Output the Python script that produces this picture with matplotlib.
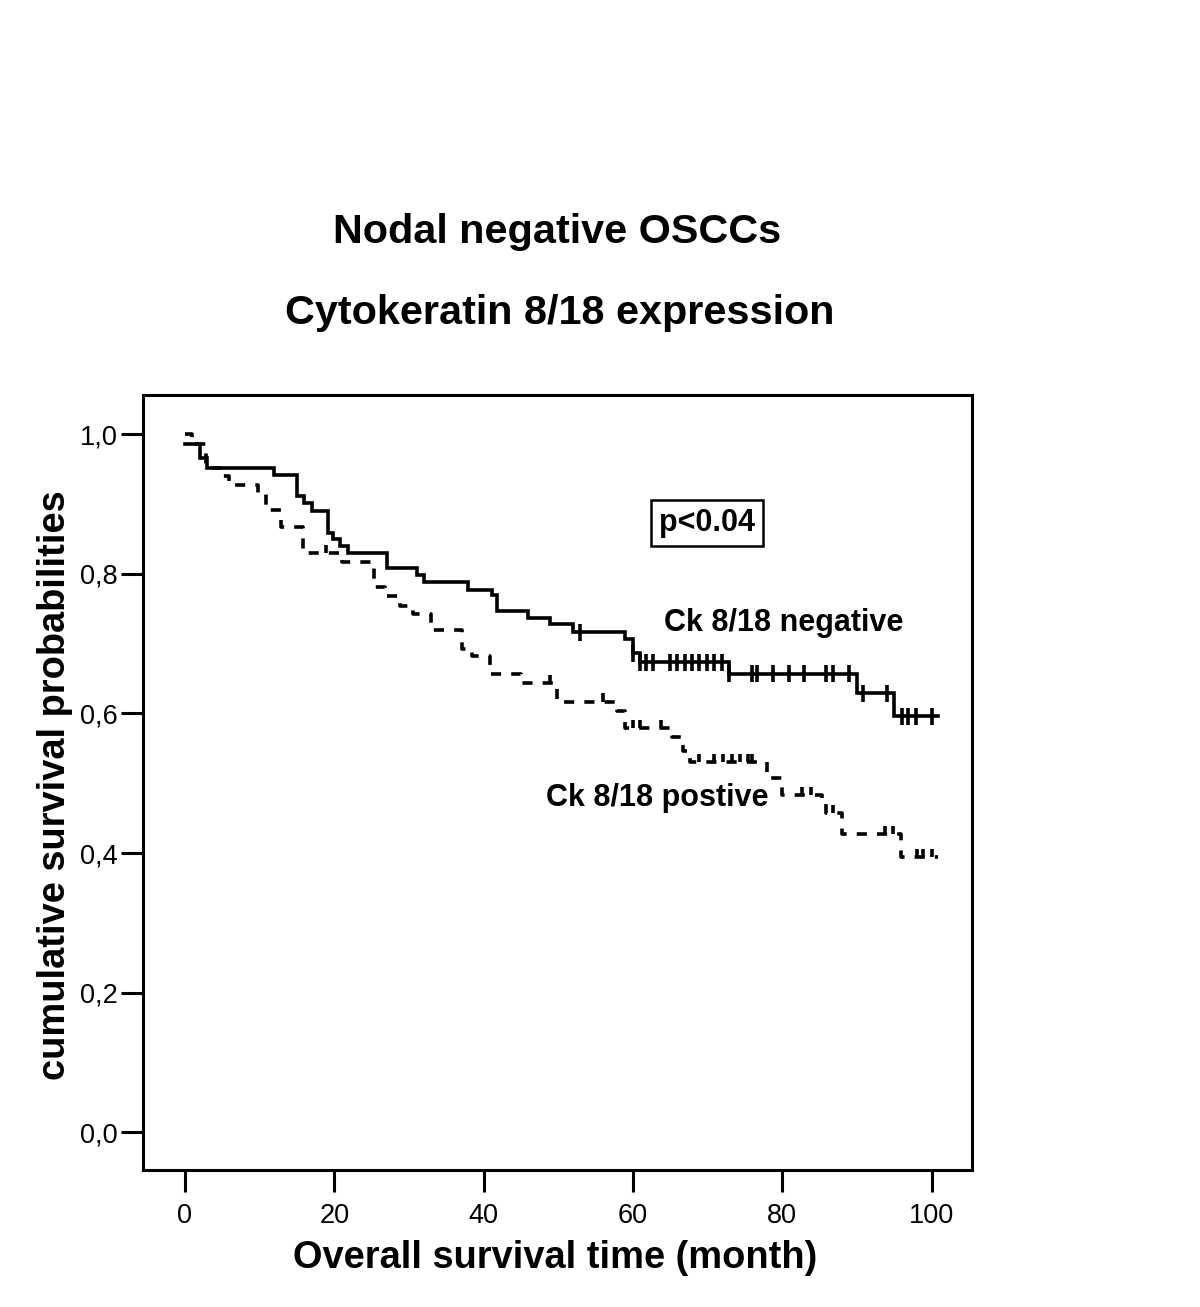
import matplotlib
matplotlib.use("Agg")
import matplotlib.pyplot as plt
import numpy as np

plt.rcParams['font.family'] = ['Liberation Sans', 'DejaVu Sans']

# ---- data ----
neg_times = [0, 2.0, 2.9, 11.9, 15.0, 15.9, 17.0, 19.1, 19.8, 20.8, 21.8, 27.0, 31.1, 32.0,
             37.9, 41.1, 41.8, 45.9, 48.9, 51.9, 58.9, 60.0, 60.9, 72.8, 90.0, 94.9, 100.9]
neg_surv = [0.986, 0.966, 0.951, 0.941, 0.911, 0.901, 0.890, 0.858, 0.850, 0.840, 0.829, 0.808,
            0.798, 0.788, 0.777, 0.769, 0.747, 0.736, 0.728, 0.716, 0.707, 0.686, 0.673, 0.657,
            0.629, 0.596, 0.596]
neg_cens_t = [52.9, 60.0, 60.9, 61.8, 62.7, 64.9, 65.9, 66.9, 67.9, 68.9, 69.9, 70.9, 71.9,
              72.8, 75.9, 76.6, 78.8, 80.9, 82.9, 85.8, 86.8, 88.9, 90.8, 94.0,
              96.0, 96.8, 97.9, 100.0]

pos_times = [0, 1.0, 2.8, 5.0, 5.9, 9.8, 10.8, 12.8, 15.8, 21.0, 25.3, 26.8, 28.8, 30.5, 33.0,
             37.1, 38.5, 40.8, 45.0, 49.8, 57.8, 58.9, 65.2, 66.7, 67.6, 77.9, 79.9, 85.3, 85.9,
             88.0, 95.9, 100.9]
pos_surv = [1.0, 0.986, 0.951, 0.940, 0.927, 0.915, 0.891, 0.867, 0.829, 0.817, 0.781, 0.768,
            0.754, 0.743, 0.719, 0.692, 0.682, 0.656, 0.643, 0.617, 0.603, 0.579, 0.566, 0.546,
            0.530, 0.507, 0.483, 0.470, 0.457, 0.427, 0.394, 0.394]
pos_cens_t = [18.9, 48.9, 56.0, 60.0, 61.0, 63.8, 68.9, 70.9, 72.0, 73.2, 74.3, 75.4, 76.0,
              82.7, 83.9, 86.8, 93.7, 94.8, 98.0, 98.8, 100.0]

xticks = [0, 20, 40, 60, 80, 100]
yticks = [0.0, 0.2, 0.4, 0.6, 0.8, 1.0]
ytick_labels = ["0,0", "0,2", "0,4", "0,6", "0,8", "1,0"]


def surv_at(times, surv, t):
    idx = np.searchsorted(np.asarray(times), t, side='right') - 1
    return np.asarray(surv)[idx]


W, H = 1200, 1307
fig = plt.figure(figsize=(W / 100, H / 100), dpi=100)
ax = fig.add_axes([143 / W, 1 - 1170 / H, (972 - 143) / W, (1170 - 395) / H])

lw = 2.2
clw = 2.6
ax.step(neg_times, neg_surv, where='post', color='black', lw=clw, solid_joinstyle='miter')
ax.step(pos_times, pos_surv, where='post', color='black', lw=clw, linestyle=(0, (2.8, 2.8)))

# censor marks
nc = surv_at(neg_times, neg_surv, np.array(neg_cens_t))
ax.vlines(neg_cens_t, nc - 0.012, nc + 0.012, color='black', lw=clw)
pc = surv_at(pos_times, pos_surv, np.array(pos_cens_t))
ax.vlines(pos_cens_t, pc, pc + 0.012, color='black', lw=clw)

ax.set_xlim(-5.62, 105.4)
ax.set_ylim(-0.054, 1.056)
ax.set_xticks(xticks)
ax.set_xticklabels([str(t) for t in xticks])
ax.set_yticks(yticks)
ax.set_yticklabels(ytick_labels)
ax.tick_params(axis='both', direction='out', length=16, width=lw, labelsize=19.5)
ax.tick_params(axis='x', pad=8)
ax.tick_params(axis='y', pad=2)
for s in ax.spines.values():
    s.set_linewidth(lw)

ax.text(80.2, 0.729, "Ck 8/18 negative", fontsize=22, fontweight='bold', ha='center', va='center')
ax.text(63.3, 0.4785, "Ck 8/18 postive", fontsize=22, fontweight='bold', ha='center', va='center')
ax.text(69.9, 0.8725, "p<0.04", fontsize=22, fontweight='bold', ha='center', va='center',
        bbox=dict(boxstyle='square,pad=0.25', fc='white', ec='black', lw=1.8))

fig.text(557 / W, 1 - 232 / H, "Nodal negative OSCCs", fontsize=29.8, fontweight='bold',
         ha='center', va='center')
fig.text(560 / W, 1 - 313 / H, "Cytokeratin 8/18 expression", fontsize=29.8, fontweight='bold',
         ha='center', va='center')
fig.text(555 / W, 1 - 1258 / H, "Overall survival time (month)", fontsize=27.4,
         fontweight='bold', ha='center', va='center')
fig.text(55 / W, 1 - 785 / H, "cumulative survival probabilities", fontsize=27.4,
         fontweight='bold', ha='center', va='center', rotation=90)

fig.savefig("out.png", dpi=100)
